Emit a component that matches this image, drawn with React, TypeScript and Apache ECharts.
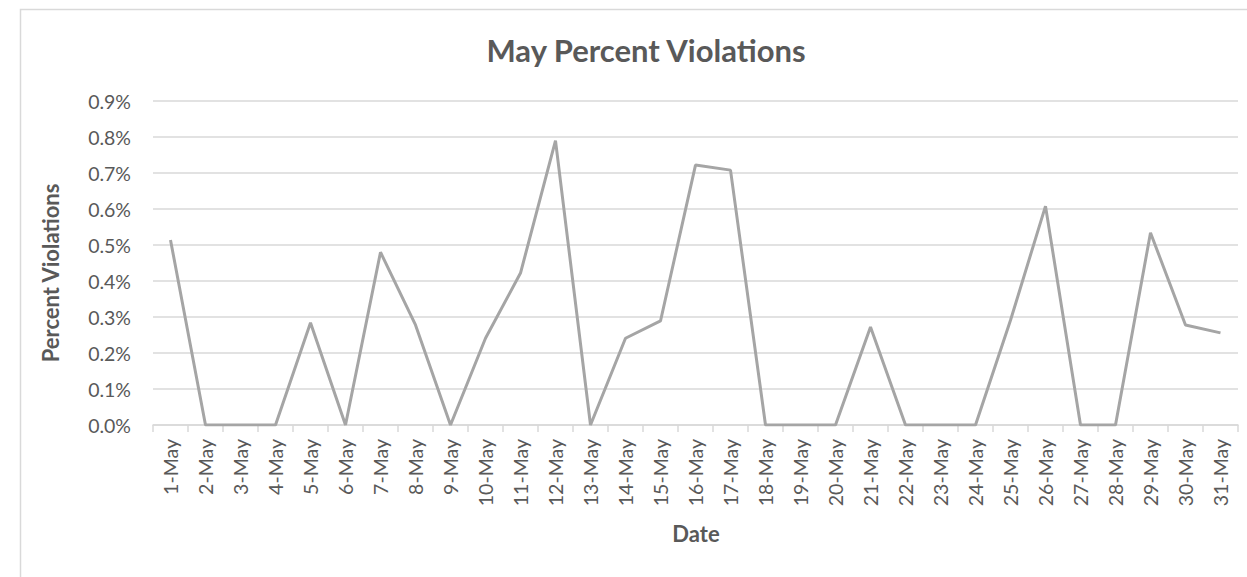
import React, { useEffect, useRef } from "react";
import * as echarts from "echarts";

const categories = [
  "1-May", "2-May", "3-May", "4-May", "5-May", "6-May", "7-May", "8-May", "9-May", "10-May",
  "11-May", "12-May", "13-May", "14-May", "15-May", "16-May", "17-May", "18-May", "19-May", "20-May",
  "21-May", "22-May", "23-May", "24-May", "25-May", "26-May", "27-May", "28-May", "29-May", "30-May", "31-May",
];

// percent values
const violations = [
  0.514, 0, 0, 0, 0.284, 0, 0.48, 0.278, 0, 0.241,
  0.422, 0.79, 0, 0.241, 0.289, 0.722, 0.708, 0, 0, 0,
  0.272, 0, 0, 0, 0.291, 0.608, 0, 0, 0.534, 0.278, 0.256,
];

const titleText = "May Percent Violations";
const yAxisName = "Percent Violations";
const xAxisName = "Date";

const FONT = "Lato, 'Open Sans', sans-serif";
const TEXT = "#595959";
const GRID = "#d9d9d9";
const LINE = "#a5a5a5";

export default function App() {
  const ref = useRef<HTMLDivElement>(null);
  useEffect(() => {
    if (!ref.current) return;
    const chart = echarts.init(ref.current, undefined, { renderer: "svg" });
    chart.setOption({
      animation: false,
      backgroundColor: "#ffffff",
      textStyle: { fontFamily: FONT },
      title: {
        text: titleText,
        left: 641,
        top: 29,
        textAlign: "center",
        textStyle: { fontFamily: FONT, fontSize: 31, fontWeight: "bold", color: TEXT },
      },
      graphic: [
        {
          type: "rect",
          left: 18,
          top: 7,
          shape: { width: 1300, height: 700 },
          style: { fill: "none", stroke: GRID, lineWidth: 1.5 },
          silent: true,
        },
        {
          type: "text",
          x: 50,
          y: 273,
          rotation: Math.PI / 2,
          style: {
            text: yAxisName,
            fontFamily: FONT,
            fontSize: 22,
            fontWeight: "bold",
            fill: TEXT,
            align: "center",
            verticalAlign: "middle",
          },
        },
        {
          type: "text",
          x: 696,
          y: 533,
          style: {
            text: xAxisName,
            fontFamily: FONT,
            fontSize: 22,
            fontWeight: "bold",
            fill: TEXT,
            align: "center",
            verticalAlign: "middle",
          },
        },
      ],
      grid: { left: 153, right: 9, top: 101, bottom: 152, containLabel: false },
      xAxis: {
        type: "category",
        data: categories,
        boundaryGap: true,
        axisLine: { show: true, lineStyle: { color: GRID, width: 1.5 } },
        axisTick: { show: true, length: 7, lineStyle: { color: GRID, width: 1.5 } },
        axisLabel: {
          interval: 0,
          rotate: 90,
          margin: 14,
          color: TEXT,
          fontFamily: FONT,
          fontSize: 19.5,
        },
      },
      yAxis: {
        type: "value",
        min: 0,
        max: 0.9,
        interval: 0.1,
        axisLine: { show: false },
        axisTick: { show: false },
        splitLine: { show: true, lineStyle: { color: GRID, width: 1.5 } },
        axisLabel: {
          margin: 22,
          color: TEXT,
          fontFamily: FONT,
          fontSize: 19.5,
          formatter: (v: number) => v.toFixed(1) + "%",
        },
      },
      series: [
        {
          type: "line",
          data: violations,
          showSymbol: false,
          symbol: "none",
          lineStyle: { color: LINE, width: 3 },
          itemStyle: { color: LINE },
        },
      ],
    });
    return () => chart.dispose();
  }, []);
  return (
    <div
      ref={ref}
      style={{ position: "fixed", left: 0, top: 0, width: 1247, height: 577, background: "#fff" }}
    />
  );
}
